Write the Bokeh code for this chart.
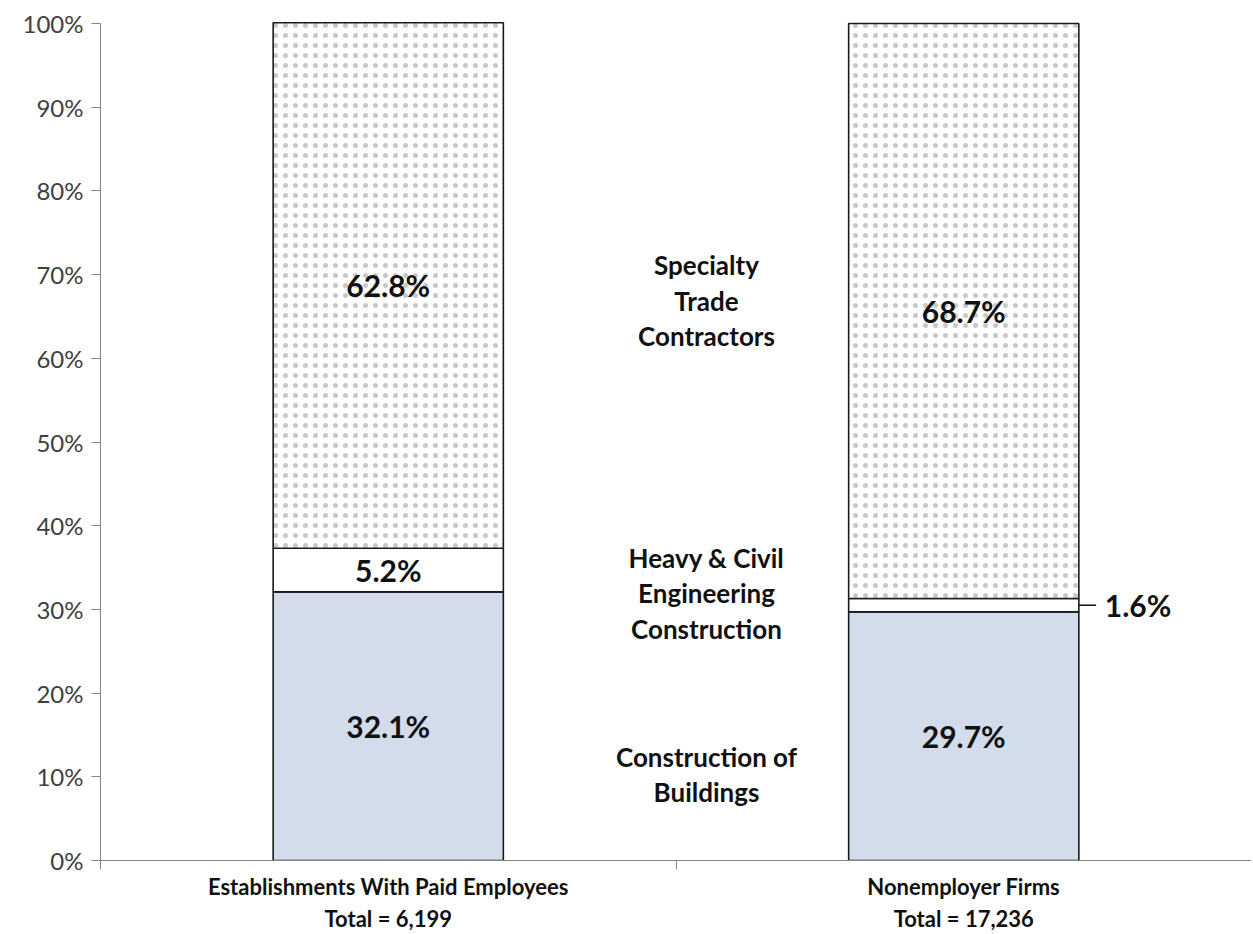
from bokeh.plotting import figure
from bokeh.models import Range1d, FixedTicker
from bokeh.core.properties import value
from bokeh.embed import file_html
from bokeh.resources import INLINE

# ---- data ----
groups = ["Establishments With Paid Employees\nTotal = 6,199",
          "Nonemployer Firms\nTotal = 17,236"]
buildings = [32.1, 29.7]
heavy_civil = [5.2, 1.6]
specialty = [62.8, 68.7]
segment_names = ["Construction of\nBuildings",
                 "Heavy & Civil\nEngineering\nConstruction",
                 "Specialty\nTrade\nContractors"]
y_ticks = [0, 10, 20, 30, 40, 50, 60, 70, 80, 90, 100]

FONT = "Lato"
BAR_W = 0.4
xs = [i + 0.5 for i in range(len(groups))]

p = figure(width=1251, height=934,
           x_range=Range1d(0, len(groups)), y_range=Range1d(0, 100.6),
           output_backend="svg", toolbar_location=None,
           min_border_left=100, min_border_right=0,
           min_border_top=18, min_border_bottom=74)
p.background_fill_color = "white"
p.border_fill_color = "white"
p.outline_line_color = None
p.xgrid.visible = False
p.ygrid.visible = False

# stacked segments
b0 = [0] * len(groups)
b1 = buildings
t1 = [a + b for a, b in zip(buildings, heavy_civil)]
t2 = [a + b for a, b in zip(t1, specialty)]

p.vbar(x=xs, width=BAR_W, bottom=b0, top=b1, fill_color="#D2DCEA",
       line_color="#1a1a1a", line_width=1.6)
p.vbar(x=xs, width=BAR_W, bottom=b1, top=t1, fill_color="white",
       line_color="#1a1a1a", line_width=1.6)
p.vbar(x=xs, width=BAR_W, bottom=t1, top=t2, fill_color="white",
       hatch_pattern="dot", hatch_color="#c2c2c2", hatch_scale=10,
       hatch_weight=0.6, hatch_alpha=0.9,
       line_color="#1a1a1a", line_width=1.6)

# value labels
in_x, in_y, in_t = [], [], []
out_x, out_y, out_t = [], [], []
for i, x in enumerate(xs):
    segs = [(0, buildings[i]), (b1[i], heavy_civil[i]), (t1[i], specialty[i])]
    for bot, v in segs:
        mid = bot + v / 2
        if v < 3:
            out_x.append(x + BAR_W / 2)
            out_y.append(mid)
            out_t.append(f"{v}%")
        else:
            in_x.append(x)
            in_y.append(mid)
            in_t.append(f"{v}%")

p.text(x=in_x, y=in_y, text=in_t, text_align="center", text_baseline="middle",
       text_font=value(FONT), text_font_style="bold", text_font_size="30px",
       text_color="#111111")
p.segment(x0=out_x, x1=[x + 0.03 for x in out_x], y0=out_y, y1=out_y,
          line_color="#1a1a1a", line_width=1.6)
p.text(x=[x + 0.045 for x in out_x], y=out_y, text=out_t, text_align="left",
       text_baseline="middle", text_font=value(FONT), text_font_style="bold",
       text_font_size="30px", text_color="#111111")

# segment name labels between bars
p.text(x=[1.053] * 3, y=[10.3, 31.9, 66.9], text=segment_names,
       text_align="center", text_baseline="middle", text_line_height=1.1,
       text_font=value(FONT), text_font_style="bold", text_font_size="26px",
       text_color="#111111")

# y axis
ya = p.yaxis[0]
ya.ticker = FixedTicker(ticks=y_ticks)
ya.major_label_overrides = {t: f"{t}%" for t in y_ticks}
ya.bounds = (0, 100)
ya.axis_line_color = "#868686"
ya.major_tick_line_color = "#868686"
ya.major_tick_out = 9
ya.major_tick_in = 0
ya.minor_tick_line_color = None
ya.major_label_text_font = FONT
ya.major_label_text_font_size = "24px"
ya.major_label_text_color = "#404040"
ya.major_label_standoff = 8

# x axis
xa = p.xaxis[0]
xa.ticker = FixedTicker(ticks=xs, minor_ticks=list(range(len(groups) + 1)))
xa.major_label_overrides = {x: g for x, g in zip(xs, groups)}
xa.axis_line_color = "#868686"
xa.major_tick_line_color = None
xa.major_tick_out = 0
xa.major_tick_in = 0
xa.minor_tick_line_color = "#868686"
xa.minor_tick_out = 9
xa.minor_tick_in = 0
xa.major_label_text_font = FONT
xa.major_label_text_font_style = "bold"
xa.major_label_text_font_size = "22px"
xa.major_label_text_color = "#111111"
xa.major_label_standoff = 3

open("out.html", "w").write(file_html(p, INLINE))
